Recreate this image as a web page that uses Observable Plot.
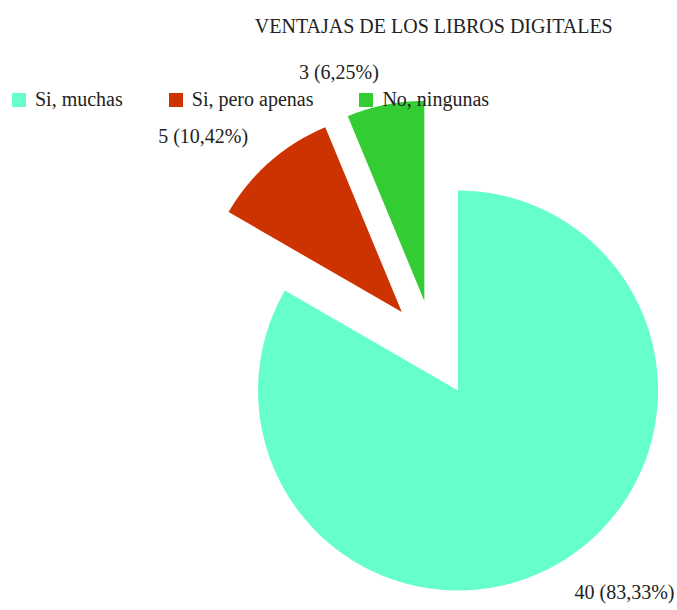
<!DOCTYPE html>
<html>
<head>
<meta charset="utf-8">
<script src="https://cdn.jsdelivr.net/npm/d3@7"></script>
<script src="https://cdn.jsdelivr.net/npm/@observablehq/plot@0.6"></script>
<style>
  html, body { margin: 0; padding: 0; background: #fff; }
  #wrap { position: relative; width: 677px; height: 610px; font-family: "Liberation Serif", "Times New Roman", serif; }
  #legend { position: absolute; left: 12px; top: 88px; display: flex; align-items: center; gap: 46px; font-size: 20px; color: #222; }
  .item { display: flex; align-items: center; }
  .sw { width: 14px; height: 14px; margin-right: 9px; }
</style>
</head>
<body>
<div id="wrap"></div>
<script>
const title = "VENTAJAS DE LOS LIBROS DIGITALES";
const categories = ["Si, muchas", "Si, pero apenas", "No, ningunas"];
const values = [40, 5, 3];
const colors = ["#66FFCC", "#CC3300", "#33CC33"];

const R = 200, EXPLODE = 48.5, LABEL_R = 233, N = 120;
const total = d3.sum(values);
let acc = 0;
const slices = values.map((v, i) => {
  const a0 = acc / total * 2 * Math.PI; acc += v;
  const a1 = acc / total * 2 * Math.PI;
  const mid = (a0 + a1) / 2;
  const ox = EXPLODE * Math.sin(mid), oy = -EXPLODE * Math.cos(mid);
  const pct = (v / total * 100).toFixed(2).replace(".", ",");
  return {key: categories[i], a0, a1, mid, ox, oy,
    label: `${v} (${pct}%)`,
    lx: ox + LABEL_R * Math.sin(mid), ly: oy - LABEL_R * Math.cos(mid)};
});
const pts = [];
for (const s of slices) {
  pts.push({key: s.key, x: s.ox, y: s.oy});
  for (let k = 0; k <= N; k++) {
    const a = s.a0 + (s.a1 - s.a0) * k / N;
    pts.push({key: s.key, x: s.ox + R * Math.sin(a), y: s.oy - R * Math.cos(a)});
  }
}

const chart = Plot.plot({
  width: 677, height: 610, margin: 0,
  x: {domain: [-433.3, 243.7], range: [0, 677], axis: null},
  y: {domain: [-348, 262], range: [0, 610], axis: null},
  color: {domain: categories, range: colors},
  style: {fontFamily: "Liberation Serif, Times New Roman, serif", fontSize: "20px", background: "#fff"},
  marks: [
    Plot.line(pts, {x: "x", y: "y", z: "key", fill: "key", stroke: null, curve: "linear-closed"}),
    Plot.text([title], {x: () => 0, frameAnchor: "top", dy: 18, fontSize: 20, fill: "#222"}),
    Plot.text(slices.filter(s => Math.sin(s.mid) >= 0), {x: "lx", y: "ly", text: "label", textAnchor: "start", fontSize: 20, fill: "#222"}),
    Plot.text(slices.filter(s => Math.sin(s.mid) < 0), {x: "lx", y: "ly", text: "label", textAnchor: "end", fontSize: 20, fill: "#222"})
  ]
});
const wrap = document.getElementById("wrap");
wrap.appendChild(chart);

const legend = document.createElement("div");
legend.id = "legend";
categories.forEach((c, i) => {
  const it = document.createElement("div");
  it.className = "item";
  const sw = document.createElement("div");
  sw.className = "sw";
  sw.style.background = colors[i];
  const t = document.createElement("span");
  t.textContent = c;
  it.appendChild(sw); it.appendChild(t);
  legend.appendChild(it);
});
wrap.appendChild(legend);
</script>
</body>
</html>
